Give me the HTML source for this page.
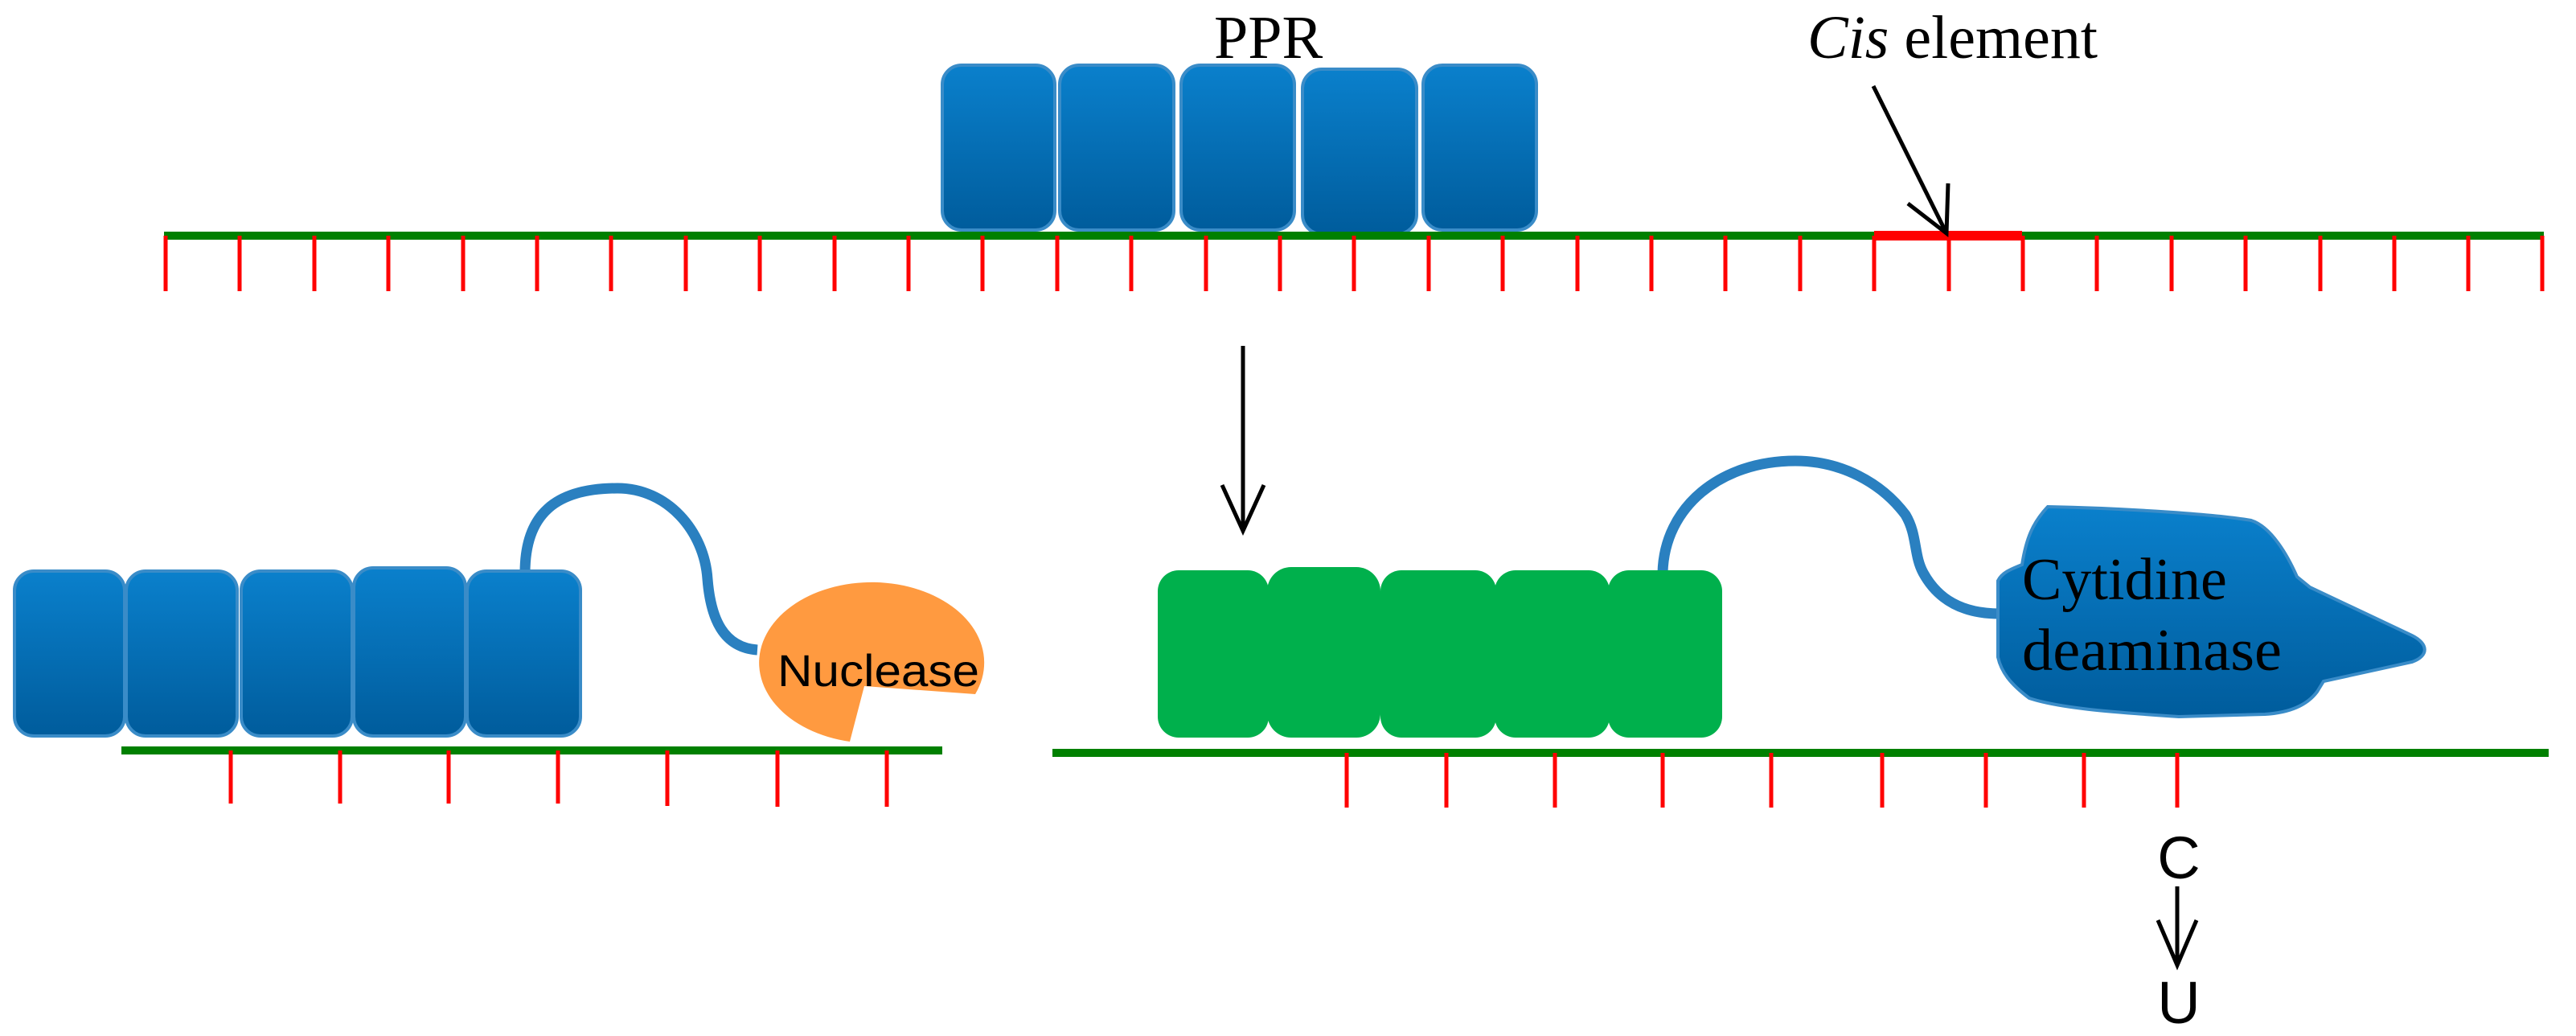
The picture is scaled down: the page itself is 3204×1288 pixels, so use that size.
<!DOCTYPE html>
<html><head><meta charset="utf-8"><style>html,body{margin:0;padding:0;background:#fff}svg{display:block}</style></head>
<body>
<svg width="3204" height="1288" viewBox="0 0 3204 1288" xmlns="http://www.w3.org/2000/svg">
<defs>
<linearGradient id="bg" x1="0" y1="0" x2="0" y2="1">
<stop offset="0" stop-color="#0a80cc"/><stop offset="1" stop-color="#005c9c"/>
</linearGradient>
</defs>

<!-- TOP -->
<text x="1510" y="72" font-family="Liberation Serif, serif" font-size="76" fill="#000">PPR</text>
<text x="2248" y="72" font-family="Liberation Serif, serif" font-size="76" fill="#000"><tspan font-style="italic">Cis</tspan> element</text>
<g fill="url(#bg)" stroke="#3a8cc8" stroke-width="4">
<rect x="1172" y="81" width="140" height="205" rx="24"/>
<rect x="1318" y="81" width="142" height="205" rx="24"/>
<rect x="1469" y="81" width="141" height="205" rx="24"/>
<rect x="1620" y="86" width="142" height="205" rx="24"/>
<rect x="1770" y="81" width="141" height="205" rx="24"/>
</g>
<line x1="204" y1="293" x2="3164" y2="293" stroke="#008000" stroke-width="10"/>
<line x1="2331" y1="293" x2="2515" y2="293" stroke="#ff0000" stroke-width="12"/>
<g stroke="#ff0000" stroke-width="5">
<line x1="206" y1="293" x2="206" y2="362"/><line x1="298" y1="293" x2="298" y2="362"/><line x1="391" y1="293" x2="391" y2="362"/><line x1="483" y1="293" x2="483" y2="362"/><line x1="576" y1="293" x2="576" y2="362"/><line x1="668" y1="293" x2="668" y2="362"/><line x1="760" y1="293" x2="760" y2="362"/><line x1="853" y1="293" x2="853" y2="362"/><line x1="945" y1="293" x2="945" y2="362"/><line x1="1038" y1="293" x2="1038" y2="362"/><line x1="1130" y1="293" x2="1130" y2="362"/><line x1="1222" y1="293" x2="1222" y2="362"/><line x1="1315" y1="293" x2="1315" y2="362"/><line x1="1407" y1="293" x2="1407" y2="362"/><line x1="1500" y1="293" x2="1500" y2="362"/><line x1="1592" y1="293" x2="1592" y2="362"/><line x1="1684" y1="293" x2="1684" y2="362"/><line x1="1777" y1="293" x2="1777" y2="362"/><line x1="1869" y1="293" x2="1869" y2="362"/><line x1="1962" y1="293" x2="1962" y2="362"/><line x1="2054" y1="293" x2="2054" y2="362"/><line x1="2146" y1="293" x2="2146" y2="362"/><line x1="2239" y1="293" x2="2239" y2="362"/><line x1="2331" y1="293" x2="2331" y2="362"/><line x1="2424" y1="293" x2="2424" y2="362"/><line x1="2516" y1="293" x2="2516" y2="362"/><line x1="2608" y1="293" x2="2608" y2="362"/><line x1="2701" y1="293" x2="2701" y2="362"/><line x1="2793" y1="293" x2="2793" y2="362"/><line x1="2886" y1="293" x2="2886" y2="362"/><line x1="2978" y1="293" x2="2978" y2="362"/><line x1="3070" y1="293" x2="3070" y2="362"/><line x1="3162" y1="293" x2="3162" y2="362"/>
</g>
<g stroke="#000" stroke-width="5" fill="none">
<line x1="2330" y1="107" x2="2421" y2="290"/>
<polyline points="2373,253 2421,290 2423,228"/>
<line x1="1546" y1="430" x2="1546" y2="660"/>
<polyline points="1520,603 1546,660 1572,603"/>
</g>

<!-- BOTTOM LEFT -->
<path d="M653 712 C653 640, 690 607, 768 607 C830 607, 876 660, 880 720 C884 770, 900 805, 942 808" fill="none" stroke="#2a80c0" stroke-width="13"/>
<g fill="url(#bg)" stroke="#3a8cc8" stroke-width="4">
<rect x="18" y="710" width="137" height="205" rx="24"/>
<rect x="157" y="710" width="138" height="205" rx="24"/>
<rect x="300" y="710" width="138" height="205" rx="24"/>
<rect x="440" y="706" width="139" height="209" rx="24"/>
<rect x="581" y="710" width="141" height="205" rx="24"/>
</g>
<path d="M1213 863 A140 100 0 1 0 1057 922 L1075 853 Z" fill="#ff9a40"/>
<text x="967" y="853" font-family="Liberation Sans, sans-serif" font-size="56" textLength="251" lengthAdjust="spacingAndGlyphs" fill="#000">Nuclease</text>
<line x1="151" y1="933" x2="1172" y2="933" stroke="#008000" stroke-width="10"/>
<g stroke="#ff0000" stroke-width="5">
<line x1="287" y1="933" x2="287" y2="999"/><line x1="423" y1="933" x2="423" y2="999"/><line x1="558" y1="933" x2="558" y2="999"/><line x1="694" y1="933" x2="694" y2="999"/><line x1="830" y1="933" x2="830" y2="1002"/><line x1="967" y1="933" x2="967" y2="1003"/><line x1="1103" y1="933" x2="1103" y2="1003"/>
</g>

<!-- BOTTOM RIGHT -->
<path d="M2068 712 C2070 630, 2140 573, 2233 573 C2290 573, 2340 600, 2370 640 C2385 665, 2380 690, 2392 712 C2410 745, 2440 763, 2487 763" fill="none" stroke="#2a80c0" stroke-width="13"/>
<g fill="#00b04c">
<rect x="1440" y="709" width="138" height="208" rx="26"/>
<rect x="1576" y="705" width="141" height="212" rx="30"/>
<rect x="1717" y="709" width="144" height="208" rx="26"/>
<rect x="1859" y="709" width="143" height="208" rx="26"/>
<rect x="2000" y="709" width="142" height="208" rx="26"/>
</g>
<path d="M2547 630 C2650 632, 2760 640, 2800 647 C2825 655, 2845 690, 2857 717 L2873 730 L3000 790 C3020 800, 3022 815, 3000 823 L2890 847 L2882 860 C2870 876, 2850 886, 2817 888 L2710 891 C2620 885, 2560 880, 2524 868 C2500 850, 2489 835, 2485 817 L2485 722 C2490 712, 2500 708, 2515 702 C2520 670, 2528 650, 2547 630 Z" fill="url(#bg)" stroke="#3a8cc8" stroke-width="4"/>
<text x="2515" y="745" font-family="Liberation Serif, serif" font-size="74" fill="#000">Cytidine</text>
<text x="2515" y="833" font-family="Liberation Serif, serif" font-size="74" textLength="323" lengthAdjust="spacingAndGlyphs" fill="#000">deaminase</text>
<line x1="1309" y1="936" x2="3170" y2="936" stroke="#008000" stroke-width="10"/>
<g stroke="#ff0000" stroke-width="5">
<line x1="1675" y1="936" x2="1675" y2="1004"/><line x1="1799" y1="936" x2="1799" y2="1004"/><line x1="1934" y1="936" x2="1934" y2="1004"/><line x1="2068" y1="936" x2="2068" y2="1004"/><line x1="2203" y1="936" x2="2203" y2="1004"/><line x1="2341" y1="936" x2="2341" y2="1004"/><line x1="2470" y1="936" x2="2470" y2="1004"/><line x1="2592" y1="936" x2="2592" y2="1004"/><line x1="2708" y1="936" x2="2708" y2="1004"/>
</g>
<text x="2710" y="1092" text-anchor="middle" font-family="Liberation Sans, sans-serif" font-size="74" fill="#000">C</text>
<g stroke="#000" stroke-width="5" fill="none">
<line x1="2708" y1="1102" x2="2708" y2="1200"/>
<polyline points="2684,1144 2708,1200 2732,1144"/>
</g>
<text x="2710" y="1272" text-anchor="middle" font-family="Liberation Sans, sans-serif" font-size="74" fill="#000">U</text>
</svg>
</body></html>
